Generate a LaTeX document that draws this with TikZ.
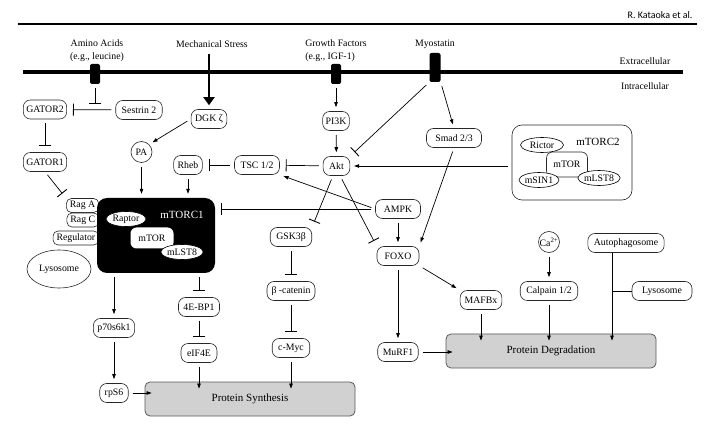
\documentclass[tikz,border=0pt]{standalone}
\usepackage{fontspec}
\setmainfont{Liberation Serif}
\newfontfamily\authfont{Carlito}
\usetikzlibrary{arrows.meta,shapes.geometric}
\newcommand\nfont{\fontsize{9.8}{13}\selectfont}
\newcommand\bfont{\fontsize{11}{13}\selectfont}
\tikzset{
  box/.style={draw=black!85, line width=0.6pt, fill=white, rounded corners=7pt, minimum height=19pt, inner xsep=6pt, inner ysep=1pt},
  tight/.style={box, inner xsep=3pt},
  rag/.style={box, inner xsep=3.5pt, rounded corners=5pt, minimum height=14pt, inner ysep=0pt},
  rnd/.style={circle, draw=black!85, line width=0.6pt, fill=white, minimum size=21pt, inner sep=0pt},
  rec/.style={fill=black, rounded corners=2pt, minimum width=10pt, minimum height=20pt, inner sep=0pt},
  oval/.style={ellipse, draw=black, line width=0.6pt, fill=white, inner sep=0pt, minimum width=40pt, minimum height=15pt},
  outbox/.style={draw=black!65, fill=black!18, line width=0.8pt, rounded corners=5pt, minimum width=210pt, minimum height=34pt, font=\bfont},
  arr/.style={-{Triangle[length=5pt,width=3.5pt]}, line width=0.7pt, shorten <=4pt, shorten >=4pt},
  into/.style={arr, shorten >=-7pt},
  inh/.style={-{Bar[width=12pt,line width=0.9pt]}, line width=0.7pt, shorten <=4pt, shorten >=6pt},
  big/.style={-{Triangle[length=8pt,width=11pt]}, line width=2.6pt, shorten <=3pt, shorten >=4pt},
}

\begin{document}
\begin{tikzpicture}[x=1pt, y=-1pt, font=\nfont]
\useasboundingbox (0,0) rectangle (709,435);

\node[anchor=east, font=\authfont\fontsize{10}{12}\selectfont] (auth) at (696,15) {R. Kataoka et al.};
\draw[line width=1.2pt] (18,24) -- (697,24);
\draw[line width=4pt] (23,72) -- (683,72);
\node (extra) at (645,61) {Extracellular};
\node (intra) at (645,86) {Intracellular};

\node[rec] (aar) at (95,74) {};
\node[rec] (gfr) at (336,74) {};
\node[rec, minimum width=11pt, minimum height=29pt] (myor) at (435,67.5) {};
\node[align=center] (aa) at (97,50.5) {Amino Acids\\(e.g., leucine)};
\node (ms) at (212,44) {Mechanical Stress};
\node[align=left] (gf) at (336,50.5) {Growth Factors\\(e.g., IGF-1)};
\node (myo) at (435,44) {Myostatin};

\node[tight] (gat2) at (45,109.5) {GATOR2};
\node[box] (ses) at (139,110) {Sestrin 2};
\node[box, inner xsep=4pt] (dgk) at (209,119) {DGK ζ};
\node[tight] (pi3k) at (336,121) {PI3K};
\node[box, minimum width=55pt] (smad) at (454,138) {Smad 2/3};
\node[tight] (gat1) at (45,162) {GATOR1};
\node[rnd] (pa) at (141.5,152) {PA};
\node[box, inner xsep=4pt] (rheb) at (188,165) {Rheb};
\node[box] (tsc) at (257,165) {TSC 1/2};
\node[box] (akt) at (336.5,166) {Akt};
\node[box, minimum width=45pt] (ampk) at (398,209) {AMPK};
\node[box, minimum width=42pt] (foxo) at (398,256) {FOXO};
\node[box] (gsk) at (291,237) {GSK3β};
\node[box, inner xsep=4.5pt] (bcat) at (291,291) {β -catenin};
\node[box] (cmyc) at (291,348) {c-Myc};
\node[box, inner xsep=4pt] (p70) at (114,328) {p70s6k1};
\node[box, inner xsep=5pt] (rps6) at (114,393) {rpS6};
\node[box, inner xsep=5pt] (ebp) at (199,307) {4E-BP1};
\node[box] (eif) at (199,353) {eIF4E};
\node[box, inner xsep=4.5pt] (mafbx) at (481,300) {MAFBx};
\node[box, inner xsep=5pt] (murf) at (398,352) {MuRF1};
\node[rnd] (ca) at (549,242) {Ca\textsuperscript{2+}};
\node[box] (calp) at (549,291) {Calpain 1/2};
\node[box] (auto) at (626,243) {Autophagosome};
\node[box, minimum width=60pt] (lysor) at (662,291) {Lysosome};

\node[rag, anchor=east] (raga) at (99,205.5) {Rag A};
\node[rag, anchor=east] (ragc) at (99,220) {Rag C};
\node[rag, anchor=east] (regu) at (99,238) {Regulator};
\node[ellipse, draw=black!85, line width=0.6pt, minimum width=64pt, minimum height=38pt, inner sep=0pt] (lysol) at (59,269) {Lysosome};
\node[fill=black, rounded corners=10pt, minimum width=118pt, minimum height=75pt, inner sep=0pt] (mtorc1) at (156,235.5) {};
\node[text=white, font=\bfont] (mtorc1lab) at (182,215) {mTORC1};
\node[fill=white, rounded corners=6pt, minimum width=43pt, minimum height=21pt, inner sep=0pt] (mtor1) at (152,238) {mTOR};
\node[oval] (raptor) at (126,219) {Raptor};
\node[oval] (mlst1) at (182,252) {mLST8};

\node[draw=black!85, line width=0.6pt, rounded corners=10pt, minimum width=120pt, minimum height=75pt] (mtorc2) at (572,162.5) {};
\node[font=\bfont] (mtorc2lab) at (598,142) {mTORC2};
\node[draw=black!85, line width=0.6pt, fill=white, rounded corners=6pt, minimum width=41pt, minimum height=25pt, inner sep=0pt] (mtor2) at (567,164.5) {mTOR};
\node[oval, minimum width=43pt] (rictor) at (542,145) {Rictor};
\node[oval] (msin) at (539,180) {mSIN1};
\node[oval, minimum width=42pt] (mlst2) at (599,178) {mLST8};

\node[outbox] (psyn) at (250,399) {Protein Synthesis};
\node[outbox] (pdeg) at (551,351) {Protein Degradation};

\coordinate (aabar) at (95,104);
\draw[inh, shorten >=0pt] (aar.south) -- (aabar);
\draw[inh] (ses) -- (gat2);
\draw[inh] (gat2) -- (gat1);
\draw[inh] (gat1.south) -- (raga.north west);
\draw[big] (ms.south -| dgk) -- (dgk);
\draw[arr] (dgk.west) -- (pa.north east);
\draw[arr] (pa) -- (pa |- mtorc1.north);
\draw[arr] (rheb) -- (rheb |- mtorc1.north);
\draw[inh] (tsc) -- (rheb);
\draw[inh] (akt) -- (tsc);
\draw[arr] (gfr.south) -- (pi3k);
\draw[arr] (pi3k) -- (akt);
\draw[inh] (myor.south west) -- (akt.north east);
\draw[arr] (myor.south east) -- (smad.north);
\draw[arr] (smad.south) -- (foxo.north east);
\draw[arr] (mtorc2.west |- akt) -- (akt);
\draw[inh] (ampk.west) -- (ampk.west -| mtorc1.east);
\draw[arr] (ampk.west) -- (tsc.south east);
\draw[arr] (ampk) -- (foxo);
\draw[inh] (akt.-110) -- (gsk.north east);
\draw[inh] (akt.-70) -- (foxo.north west);
\draw[inh] (gsk) -- (bcat);
\draw[inh] (bcat) -- (cmyc);
\draw[into] (cmyc) -- (cmyc |- psyn.north);
\draw[arr] (mtorc1.south -| p70) -- (p70);
\draw[arr] (p70) -- (rps6);
\draw[into] (rps6) -- (rps6 -| psyn.west);
\draw[inh] (mtorc1.south -| ebp) -- (ebp);
\draw[inh] (ebp) -- (eif);
\draw[into] (eif) -- (eif |- psyn.north);
\draw[arr] (foxo.south east) -- (mafbx.north west);
\draw[arr] (foxo) -- (murf);
\draw[into] (murf) -- (murf -| pdeg.west);
\draw[into] (mafbx) -- (mafbx |- pdeg.north);
\draw[arr] (ca) -- (calp);
\draw[into] (calp) -- (calp |- pdeg.north);
\coordinate (auline) at (612,291);
\draw[into, shorten <=0pt] (auto.south -| auline) -- (auline |- pdeg.north);
\draw[line width=0.7pt] (lysor) -- (auline);
\end{tikzpicture}
\end{document}
